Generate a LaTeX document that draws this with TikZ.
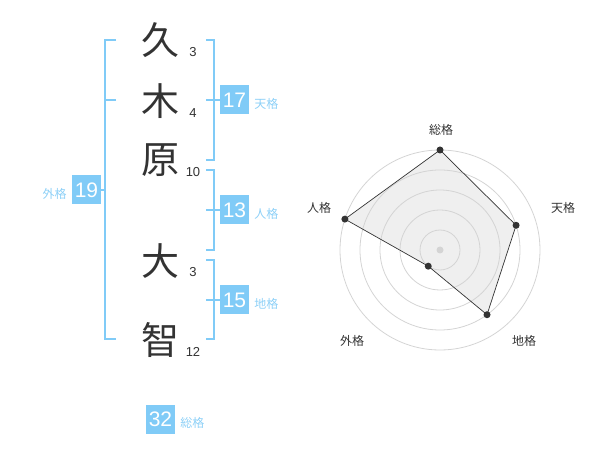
\documentclass[tikz,border=0pt]{standalone}
\usepackage{fontspec}
\setmainfont{Liberation Sans}
\newfontfamily\jp{Noto Sans CJK JP}
\usetikzlibrary{positioning}

\definecolor{skyb}{HTML}{80CBF7}
\definecolor{skyt}{HTML}{8DD0F7}
\definecolor{ink}{HTML}{333333}
\definecolor{ringc}{HTML}{D4D4D4}
\definecolor{area}{HTML}{EFEFEF}

\begin{document}
\begin{tikzpicture} [x=1pt, y=-1pt,
		kanji/.style={text=ink, inner sep=0pt,
			font=\jp\fontsize{38}{38}\selectfont},
		strokes/.style={text=ink, inner sep=0pt,
			font=\fontsize{13}{13}\selectfont},
		numbox/.style={fill=skyb, text=white, inner sep=0pt,
			minimum size=29pt, font=\fontsize{21}{21}\selectfont},
		kaku/.style={text=skyt, inner sep=0pt, yshift=-3.5pt,
			font=\jp\fontsize{12}{12}\selectfont},
		brk/.style={draw=skyb, line width=2pt},
		axis label/.style={text=ink, inner sep=0pt,
			font=\jp\fontsize{12}{12}\selectfont},
		dot/.style={circle, fill=ink, inner sep=0pt, minimum size=7pt},
	]
	\useasboundingbox (0,0) rectangle (600,470);

	% Name
	\node (k1) [kanji] at (160,40) {久};
	\node (k2) [kanji] at (160,101) {木};
	\node (k3) [kanji] at (160,160) {原};
	\node (k4) [kanji] at (160,261) {大};
	\node (k5) [kanji] at (160,340) {智};
	% Strokes
	\node (s1) [strokes] at (193,52) {3};
	\node (s2) [strokes] at (193,113) {4};
	\node (s3) [strokes] at (193,172) {10};
	\node (s4) [strokes] at (193,272) {3};
	\node (s5) [strokes] at (193,352) {12};

	% Boxes
	\node (b17) [numbox] at (234.5,100) {17};
	\node (b13) [numbox] at (234.5,210) {13};
	\node (b15) [numbox] at (234.5,300) {15};
	\node (b19) [numbox] at (86.5,190) {19};
	\node (b32) [numbox] at (160.5,419) {32};
	\node (t17) [kaku, right = 5pt of b17] {天格};
	\node (t13) [kaku, right = 5pt of b13] {人格};
	\node (t15) [kaku, right = 5pt of b15] {地格};
	\node (t19) [kaku, left = 5pt of b19] {外格};
	\node (t32) [kaku, right = 5pt of b32] {総格};

	% Brackets
	\coordinate (ten-a) at (206,40);
	\coordinate (ten-b) at (206,160);
	\coordinate (jin-a) at (206,170);
	\coordinate (jin-b) at (206,250);
	\coordinate (chi-a) at (206,260);
	\coordinate (chi-b) at (206,339);
	\coordinate (gai-a) at (116,40);
	\coordinate (gai-m) at (116,100);
	\coordinate (gai-b) at (116,339);
	\draw [brk] (ten-a) -- ++(8,0) |- (ten-b);
	\draw [brk] (jin-a) -- ++(8,0) |- (jin-b);
	\draw [brk] (chi-a) -- ++(8,0) |- (chi-b);
	\draw [brk] (gai-a) -- ++(-11,0) |- (gai-b);
	\draw [brk] (gai-m) -- ++(-11,0);
	\draw [brk] (b17.west) -- ++(-14,0);
	\draw [brk] (b13.west) -- ++(-14,0);
	\draw [brk] (b15.west) -- ++(-14,0);
	\draw [brk] (b19.east) -- ++(4,0);

	% Radar
	\coordinate (c) at (440,250);
	\foreach \a/\r/\n in {90/100/so, 18/80/ten, -54/80/chi, -126/20/gai, 162/100/jin}
		\path (c) ++(\a:\r pt) coordinate (v-\n);
	\fill [area] (v-so) -- (v-ten) -- (v-chi) -- (v-gai) -- (v-jin) -- cycle;
	\foreach \r in {20,40,...,100}
		\draw [ringc, line width=0.8pt] (c) circle (\r pt);
	\draw [ink, line width=0.7pt] (v-so) -- (v-ten) -- (v-chi) -- (v-gai) -- (v-jin) -- cycle;
	\foreach \n in {so,ten,chi,gai,jin}
		\node (d-\n) [dot] at (v-\n) {};
	\node (c0) [dot, fill=ringc] at (c) {};
	% Axis labels
	\node (a-so) [axis label] at (441,130) {総格};
	\node (a-ten) [axis label] at (563,208) {天格};
	\node (a-chi) [axis label] at (524,341) {地格};
	\node (a-gai) [axis label] at (352,341) {外格};
	\node (a-jin) [axis label] at (319,208) {人格};
\end{tikzpicture}
\end{document}
